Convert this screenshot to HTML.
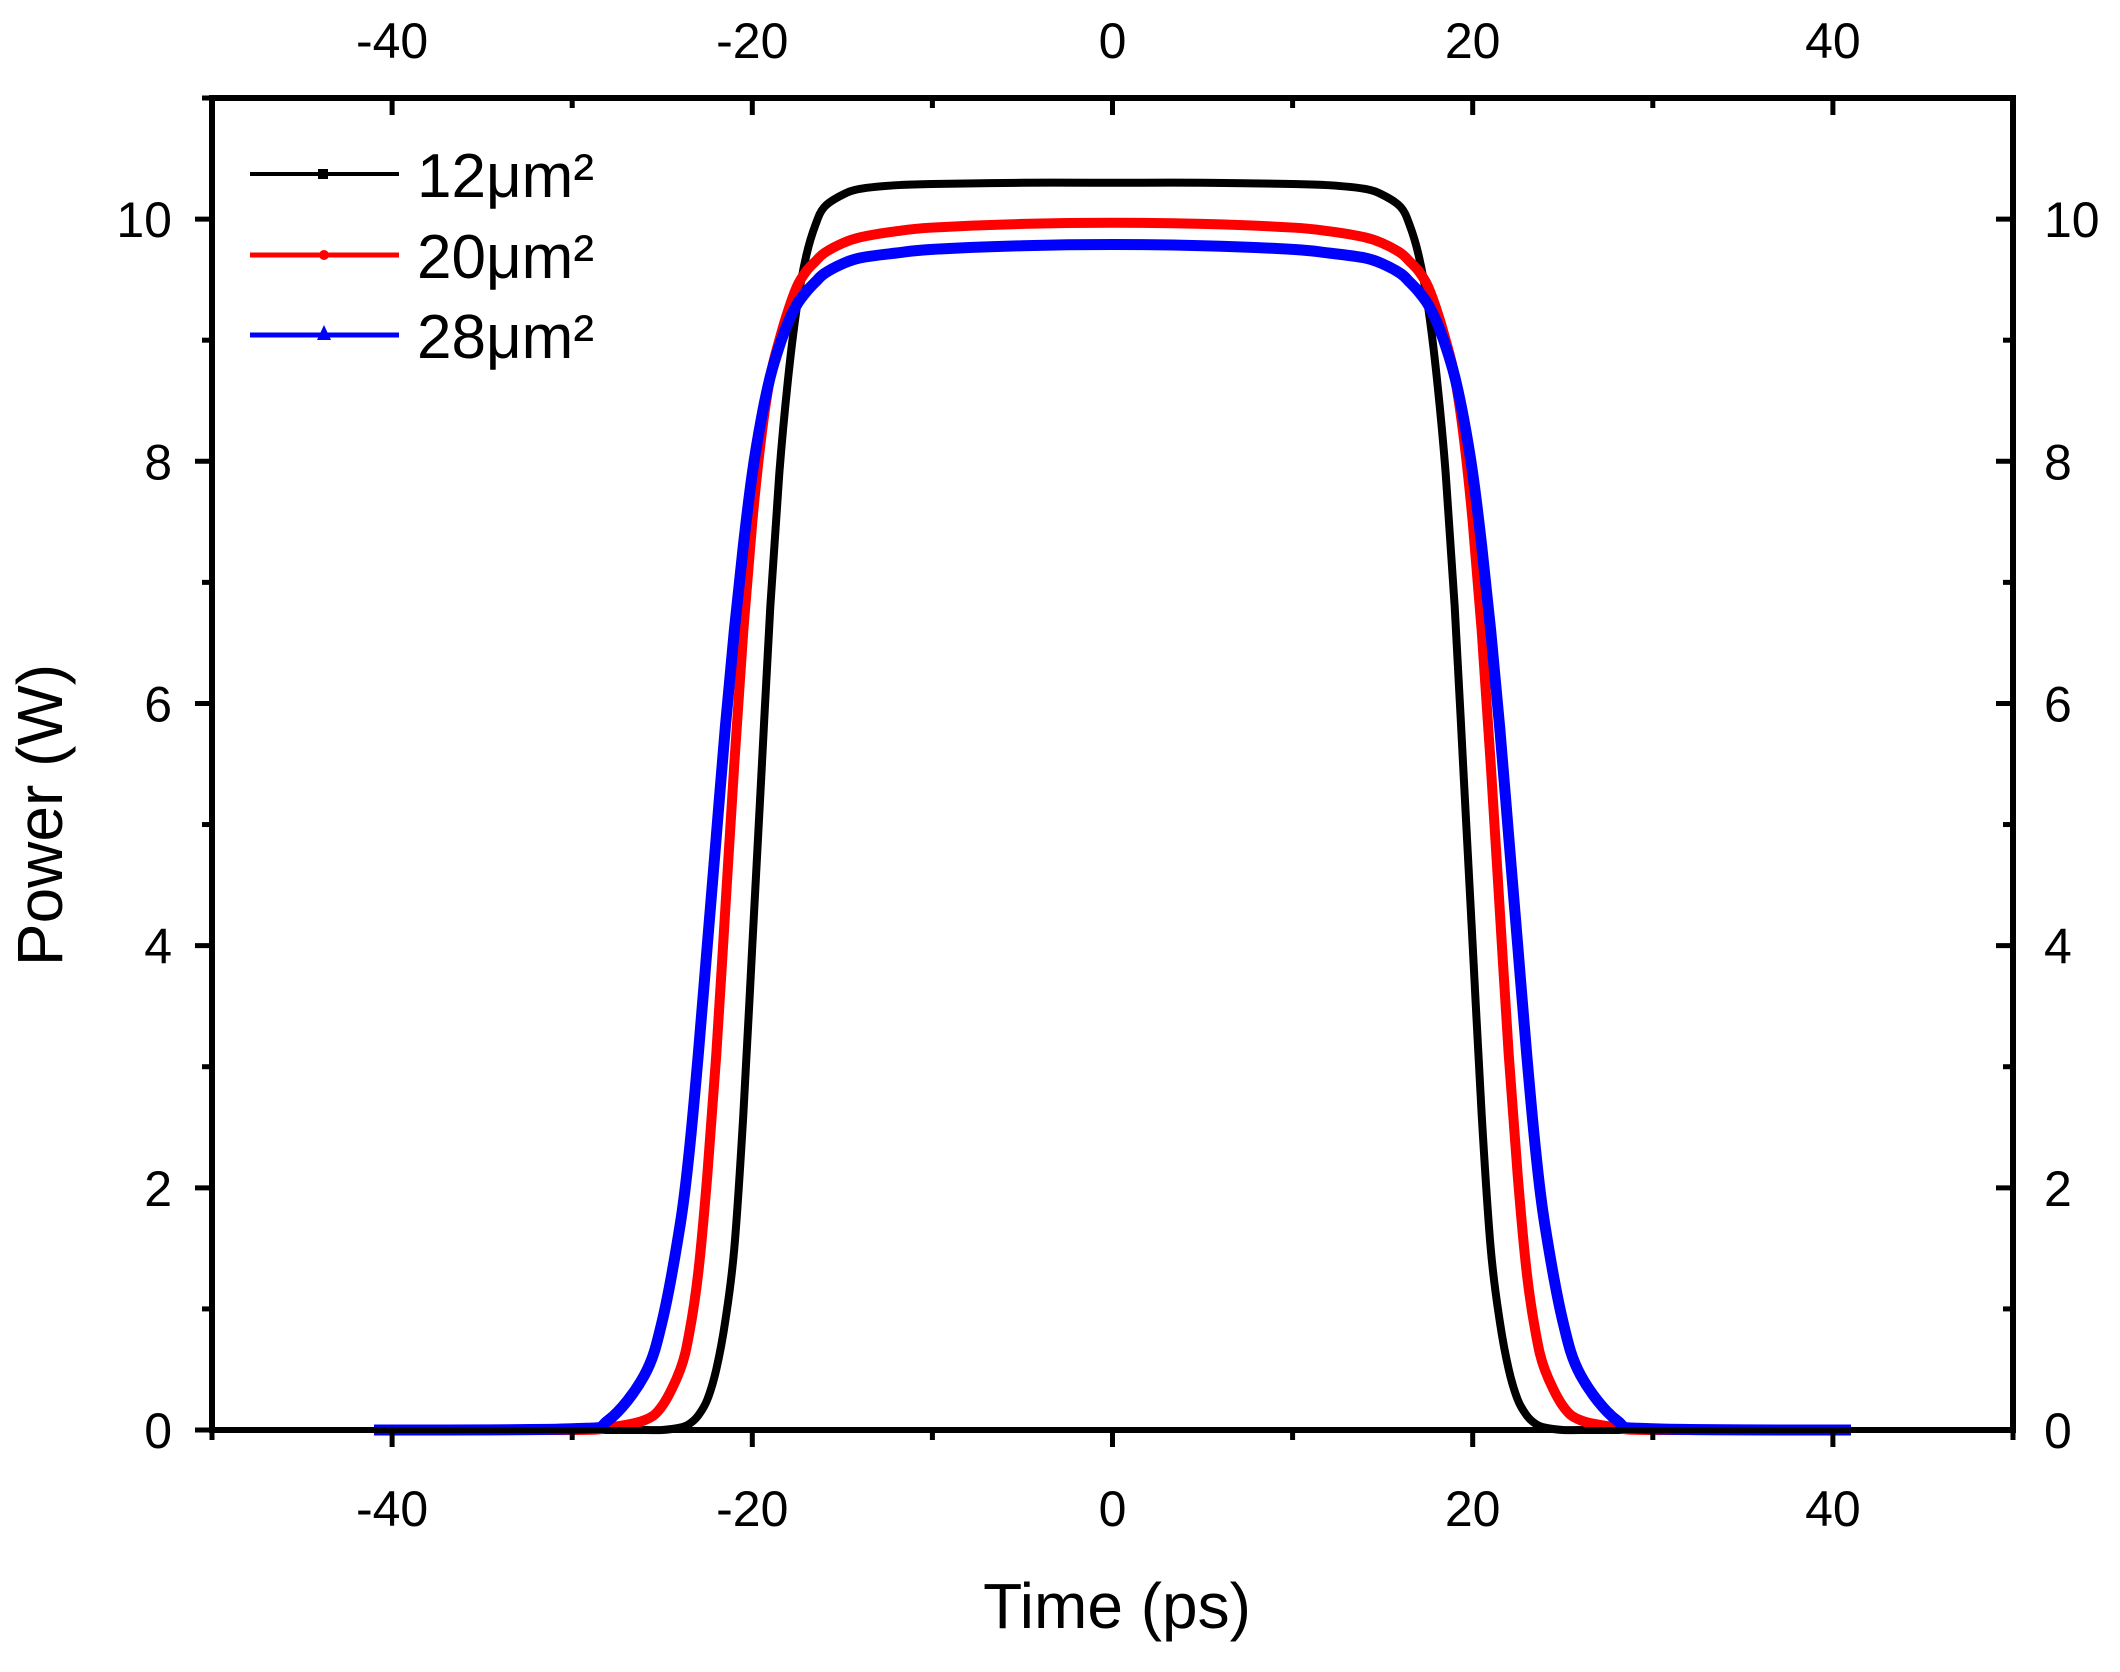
<!DOCTYPE html>
<html><head><meta charset="utf-8"><style>
html,body{margin:0;padding:0;background:#fff}
svg{display:block}
text{font-family:"Liberation Sans",Arial,sans-serif;fill:#000}
</style></head><body>
<svg id="chart" width="2120" height="1672" viewBox="0 0 2120 1672" xmlns="http://www.w3.org/2000/svg">
<g id="marks"></g>
<g id="axes"></g>
<text x="1117" y="1628" font-size="64" text-anchor="middle">Time (ps)</text>
<text transform="translate(62,815) rotate(-90)" font-size="64" text-anchor="middle">Power (W)</text>
<g>
<g>
<line x1="250" y1="174" x2="399" y2="174" stroke="#000" stroke-width="4"/>
<rect x="318" y="169" width="10" height="10" fill="#000"/>
<text x="417" y="197" font-size="62">12μm²</text></g>
<g>
<line x1="250" y1="255" x2="399" y2="255" stroke="#f00" stroke-width="5"/>
<circle cx="324" cy="255" r="5" fill="#f00"/>
<text x="417" y="278" font-size="62">20μm²</text></g>
<g>
<line x1="250" y1="335" x2="399" y2="335" stroke="#00f" stroke-width="5"/>
<polygon points="324,325 317,340 331,340" fill="#00f"/>
<text x="417" y="358" font-size="62">28μm²</text></g>
</g>
</svg>
<script>
const times = [-41,-30,-28,-26,-25,-24,-23.5,-23,-22.5,-22,-21.5,-21,-20.5,-20,-19.5,-19,-18.5,-18,-17.5,-17,-16.5,-16,-15,-14,-12,-10,-5,0,5,10,12,14,15,16,16.5,17,17.5,18,18.5,19,19.5,20,20.5,21,21.5,22,22.5,23,23.5,24,25,26,28,30,41];
const power12 = [0,0,0,0,0,0.02,0.05,0.12,0.25,0.5,0.9,1.5,2.6,4.0,5.4,6.8,7.9,8.7,9.3,9.7,9.95,10.1,10.2,10.25,10.28,10.29,10.3,10.3,10.3,10.29,10.28,10.25,10.2,10.1,9.95,9.7,9.3,8.7,7.9,6.8,5.4,4.0,2.6,1.5,0.9,0.5,0.25,0.12,0.05,0.02,0,0,0,0,0];
const power20 = [0,0,0.02,0.08,0.2,0.5,0.8,1.3,2.1,3.1,4.3,5.5,6.6,7.5,8.2,8.7,9.0,9.25,9.45,9.57,9.65,9.72,9.8,9.85,9.9,9.93,9.96,9.97,9.96,9.93,9.9,9.85,9.8,9.72,9.65,9.57,9.45,9.25,9.0,8.7,8.2,7.5,6.6,5.5,4.3,3.1,2.1,1.3,0.8,0.5,0.2,0.08,0.02,0,0];
const power28 = [0,0.01,0.08,0.45,0.9,1.7,2.3,3.1,4.0,4.9,5.8,6.6,7.3,7.9,8.35,8.7,8.95,9.15,9.3,9.4,9.48,9.55,9.63,9.68,9.72,9.75,9.78,9.79,9.78,9.75,9.72,9.68,9.63,9.55,9.48,9.4,9.3,9.15,8.95,8.7,8.35,7.9,7.3,6.6,5.8,4.9,4.0,3.1,2.3,1.7,0.9,0.45,0.08,0.01,0];
const xTicks = [-40,-20,0,20,40];
const yTicks = [0,2,4,6,8,10];

const L=212,R=2013,T=98,B=1430;
const xMin=-50,xMax=50,yMin=0,yMax=11;
const sx=v=>L+(v-xMin)/(xMax-xMin)*(R-L);
const sy=v=>B-(v-yMin)/(yMax-yMin)*(B-T);
const NS="http://www.w3.org/2000/svg";
const marks=document.getElementById('marks'), axes=document.getElementById('axes');
function mk(tag,attrs,parent){const e=document.createElementNS(NS,tag);for(const k in attrs)e.setAttribute(k,attrs[k]);parent.appendChild(e);return e;}

function smoothPath(xs,ys){
  const p=xs.map((x,i)=>[sx(x),sy(ys[i])]);
  let d=`M${p[0][0]},${p[0][1]}`;
  for(let i=0;i<p.length-1;i++){
    const p0=p[Math.max(0,i-1)],p1=p[i],p2=p[i+1],p3=p[Math.min(p.length-1,i+2)];
    const c1=[p1[0]+(p2[0]-p0[0])/6,p1[1]+(p2[1]-p0[1])/6];
    const c2=[p2[0]-(p3[0]-p1[0])/6,p2[1]-(p3[1]-p1[1])/6];
    d+=`C${c1[0]},${c1[1]} ${c2[0]},${c2[1]} ${p2[0]},${p2[1]}`;
  }
  return d;
}
const series=[[power12,'#000',8,'series-12um2'],[power20,'#f00',10,'series-20um2'],[power28,'#00f',11,'series-28um2']];
series.forEach(s=>{
  const e=mk('path',{d:smoothPath(times,s[0]),fill:'none',stroke:s[1],'stroke-width':s[2],'stroke-linejoin':'round'},marks);
  
  
});

const fr=mk('rect',{x:L,y:T,width:R-L,height:B-T,fill:'none',stroke:'#000','stroke-width':6},axes);


for(let v=-50;v<=50;v+=10){
  const major=xTicks.includes(v);const len=major?17:10;const x=sx(v);
  mk('line',{x1:x,y1:B,x2:x,y2:B+len,stroke:'#000','stroke-width':5},axes);
  mk('line',{x1:x,y1:T,x2:x,y2:T+len,stroke:'#000','stroke-width':5},axes);
}
xTicks.forEach(v=>{
  const b=mk('text',{x:sx(v),y:1526,'font-size':50,'text-anchor':'middle'},axes);b.textContent=v;
  
  
  const t=mk('text',{x:sx(v),y:58,'font-size':50,'text-anchor':'middle'},axes);t.textContent=v;
  
  
});
for(let v=0;v<=11;v+=1){
  const major=yTicks.includes(v);const len=major?17:10;const y=sy(v);
  mk('line',{x1:L-len,y1:y,x2:L,y2:y,stroke:'#000','stroke-width':5},axes);
  mk('line',{x1:R-len,y1:y,x2:R,y2:y,stroke:'#000','stroke-width':5},axes);
}
yTicks.forEach(v=>{
  const l=mk('text',{x:172,y:sy(v)+18,'font-size':50,'text-anchor':'end'},axes);l.textContent=v;
  
  
  const r=mk('text',{x:2044,y:sy(v)+18,'font-size':50,'text-anchor':'start'},axes);r.textContent=v;
  
  
});
</script>
</body></html>
